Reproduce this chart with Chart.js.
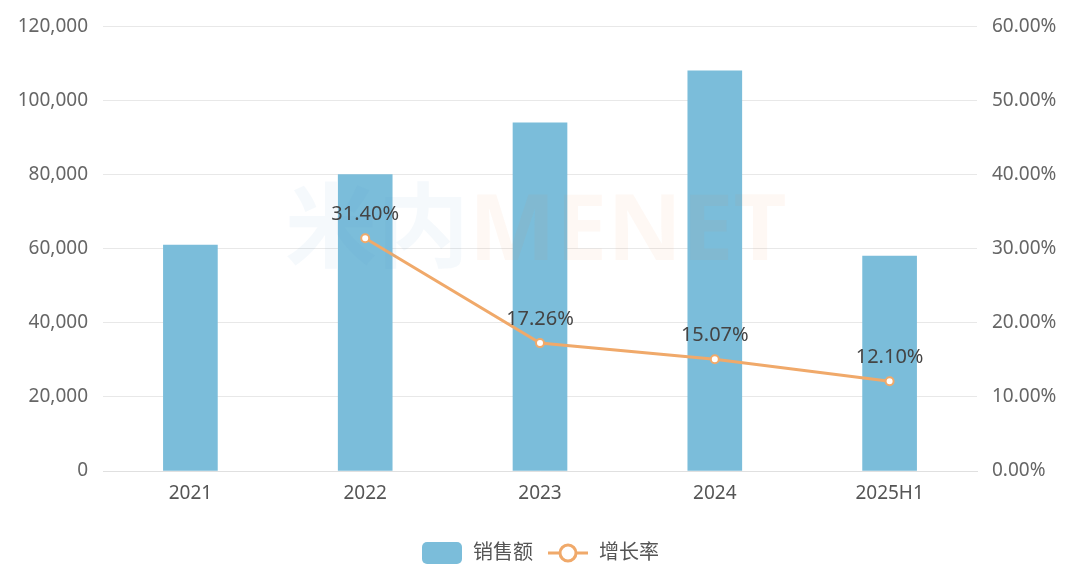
<!DOCTYPE html>
<html>
<head>
<meta charset="utf-8">
<script src="https://cdn.jsdelivr.net/npm/chart.js@4/dist/chart.umd.min.js"></script>
<style>
  html, body { margin: 0; padding: 0; background: #fff; }
  #wrap { width: 1080px; height: 575px; position: relative; }
</style>
</head>
<body>
<div id="wrap"><canvas id="chart"></canvas></div>
<script>
// data
const categories = ['2021', '2022', '2023', '2024', '2025H1'];
const salesValues = [61000, 80000, 94000, 108000, 58000];
const growthValues = [null, 31.40, 17.26, 15.07, 12.10];
const seriesNames = ['销售额', '增长率'];

const BAR_COLOR = '#7bbdda';
const LINE_COLOR = '#f0a96a';
const FONT = '"Noto Sans", "Noto Sans CJK SC", sans-serif';

// legend icons
function makeBarIcon() {
  const c = document.createElement('canvas');
  c.width = 42; c.height = 24;
  const ctx = c.getContext('2d');
  ctx.fillStyle = BAR_COLOR;
  ctx.beginPath();
  ctx.roundRect(1, 1, 40, 22, 5);
  ctx.fill();
  return c;
}
function makeLineIcon() {
  const c = document.createElement('canvas');
  c.width = 42; c.height = 24;
  const ctx = c.getContext('2d');
  ctx.strokeStyle = LINE_COLOR;
  ctx.lineWidth = 3;
  ctx.beginPath();
  ctx.moveTo(1, 12); ctx.lineTo(41, 12);
  ctx.stroke();
  ctx.fillStyle = '#fff';
  ctx.beginPath();
  ctx.arc(21, 12, 8, 0, Math.PI * 2);
  ctx.fill();
  ctx.stroke();
  return c;
}

// value labels above line points
const pointLabels = {
  id: 'pointLabels',
  afterDatasetsDraw(chart) {
    const ctx = chart.ctx;
    const meta = chart.getDatasetMeta(1);
    ctx.save();
    ctx.font = '20px ' + FONT;
    ctx.fillStyle = '#444';
    ctx.textAlign = 'center';
    ctx.textBaseline = 'bottom';
    meta.data.forEach((pt, i) => {
      const v = growthValues[i];
      if (v == null) return;
      ctx.fillText(v.toFixed(2) + '%', pt.x, pt.y - 14);
    });
    ctx.restore();
  }
};

// faint watermark
const watermark = {
  id: 'watermark',
  afterDatasetsDraw(chart) {
    const ctx = chart.ctx;
    ctx.save();
    ctx.font = 'bold 92px ' + FONT;
    ctx.textBaseline = 'middle';
    ctx.textAlign = 'left';
    ctx.globalAlpha = 0.06;
    ctx.fillStyle = '#5b9fd0';
    ctx.fillText('米内', 285, 234);
    const w = ctx.measureText('米内').width;
    ctx.fillStyle = '#f08a3c';
    ctx.fillText('MENET', 285 + w, 234);
    ctx.restore();
  }
};

new Chart(document.getElementById('chart'), {
  type: 'bar',
  data: {
    labels: categories,
    datasets: [
      {
        type: 'bar',
        label: seriesNames[0],
        data: salesValues,
        backgroundColor: BAR_COLOR,
        barThickness: 54,
        yAxisID: 'y',
        order: 2
      },
      {
        type: 'line',
        label: seriesNames[1],
        data: growthValues,
        borderColor: LINE_COLOR,
        borderWidth: 3,
        pointRadius: 4,
        pointBorderWidth: 2,
        pointBackgroundColor: '#fff',
        pointBorderColor: LINE_COLOR,
        tension: 0,
        yAxisID: 'y1',
        order: 1
      }
    ]
  },
  options: {
    responsive: true,
    maintainAspectRatio: false,
    animation: false,
    layout: { padding: { top: 18, bottom: 2, left: 0, right: 0 } },
    plugins: {
      tooltip: { enabled: false },
      legend: {
        position: 'bottom',
        labels: {
          usePointStyle: true,
          pointStyleWidth: 42,
          boxHeight: 20,
          padding: 14,
          color: '#555',
          font: { family: FONT, size: 20 },
          generateLabels(chart) {
            return chart.data.datasets.map((ds, i) => ({
              text: ds.label,
              datasetIndex: i,
              pointStyle: i === 0 ? makeBarIcon() : makeLineIcon(),
              fillStyle: 'transparent',
              strokeStyle: 'transparent',
              fontColor: '#555',
              hidden: false,
              lineWidth: 0
            }));
          }
        }
      }
    },
    scales: {
      x: {
        grid: { display: false, drawTicks: false },
        border: { display: true, color: '#e0e0e0' },
        ticks: { color: '#555', padding: 11, font: { family: FONT, size: 19 } },
        afterFit(s) { s.height = 58; }
      },
      y: {
        position: 'left',
        min: 0, max: 120000,
        ticks: {
          stepSize: 20000,
          padding: 15,
          color: '#666',
          font: { family: FONT, size: 19 },
          callback: v => v.toLocaleString('en-US')
        },
        grid: { color: '#e8e8e8', drawTicks: false },
        border: { display: false },
        afterFit(s) { s.width = 103; }
      },
      y1: {
        position: 'right',
        min: 0, max: 60,
        ticks: {
          stepSize: 10,
          padding: 15,
          color: '#666',
          font: { family: FONT, size: 19 },
          callback: v => v.toFixed(2) + '%'
        },
        grid: { display: false, drawTicks: false },
        border: { display: false },
        afterFit(s) { s.width = 103; }
      }
    }
  },
  plugins: [watermark, pointLabels]
});
</script>
</body>
</html>
